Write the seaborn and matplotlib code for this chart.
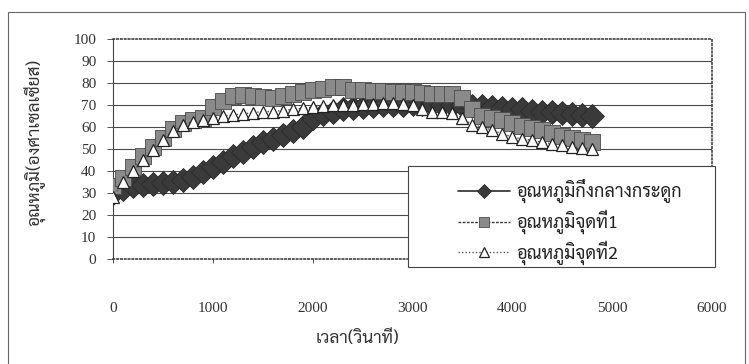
import glob, os
import matplotlib
matplotlib.use("Agg")
import matplotlib.pyplot as plt
from matplotlib import font_manager as fm
from matplotlib.patches import Rectangle
from matplotlib.lines import Line2D
import numpy as np
import pandas as pd
import seaborn as sns

# ---------------- data ----------------
time_s = [0, 100, 200, 300, 400, 500, 600, 700, 800, 900,
          1000, 1100, 1200, 1300, 1400, 1500, 1600, 1700, 1800, 1900,
          2000, 2100, 2200, 2300, 2400, 2500, 2600, 2700, 2800, 2900,
          3000, 3100, 3200, 3300, 3400, 3500, 3600, 3700, 3800, 3900,
          4000, 4100, 4200, 4300, 4400, 4500, 4600, 4700, 4800]
bone_center = [30, 32, 33, 33.5, 34, 34.5, 35, 36, 37.5, 39.5,
               42, 44, 47, 48.5, 51, 53, 54.5, 56.5, 58, 60,
               64, 66, 67, 68, 68.5, 69, 69.5, 70, 70, 70,
               70.5, 70.5, 70.5, 70, 70, 70, 69.5, 69.5, 69, 68.5,
               68, 68, 67.5, 67, 67, 66.5, 66, 65.5, 65]
point_1 = [33, 37, 42, 47, 51, 55, 59, 62, 63, 64,
           69, 72, 74, 74.5, 74, 73.5, 73, 74, 75, 76,
           77, 77.5, 78, 78, 77, 77, 76.5, 76.5, 76, 76,
           76, 75.5, 75, 75, 75, 73, 68, 65, 64, 63,
           62, 60.5, 59.5, 58.5, 57.5, 56, 55, 54, 53]
point_2 = [28, 35, 40, 45, 49.5, 54, 58, 61, 62.5, 63,
           64, 65, 65.5, 66, 66.5, 67, 67, 67.5, 68, 68.5,
           69, 69.5, 70, 70, 70, 70.5, 70.5, 71, 71, 70.5,
           70, 68, 67, 67, 66.5, 64, 61, 60, 58.5, 57,
           55.5, 54.5, 54, 53, 52.5, 52, 51, 50.5, 50]
series_names = ["อุณหภูมิกึ่งกลางกระดูก", "อุณหภูมิจุดที่1", "อุณหภูมิจุดที่2"]
x_ticks = [0, 1000, 2000, 3000, 4000, 5000, 6000]
y_ticks = [0, 10, 20, 30, 40, 50, 60, 70, 80, 90, 100]
x_label = "เวลา(วินาที)"
y_label = "อุณหภูมิ(องศาเซลเซียส)"

# ---------------- fonts ----------------
thai_family = "DejaVu Sans"
for name in ["Sarabun-Regular.ttf", "Sarabun-Light.ttf", "Pridi-Regular.ttf",
             "Taviraj-Regular.ttf", "Trirong-Regular.ttf", "Maitree-Regular.ttf",
             "Sarabun-Medium.ttf"]:
    hits = glob.glob("/usr/share/fonts/**/" + name, recursive=True)
    if hits:
        fm.fontManager.addfont(hits[0])
        thai_family = fm.FontProperties(fname=hits[0]).get_name()
        break

sns.set_theme(style="white")
plt.rcParams["font.family"] = ["Liberation Serif", thai_family, "DejaVu Sans"]
thai = [thai_family, "Liberation Serif", "DejaVu Sans"]

df = pd.DataFrame({"t": time_s, "s1": bone_center, "s2": point_1, "s3": point_2})

W, H = 749, 364
fig = plt.figure(figsize=(W / 100, H / 100), dpi=100)
fig.patch.set_facecolor("white")
fig.patches.append(Rectangle((8 / W, -0.05), (745 - 8) / W, 1.05 - 12 / H,
                             transform=fig.transFigure, fill=False,
                             edgecolor="#666666", linewidth=0.8))

ax = fig.add_axes([113 / W, 1 - 259 / H, (712 - 113) / W, (259 - 39) / H])
ax.set_facecolor("white")

sty1 = dict(color="#2b2b2b", linewidth=1.2, marker="D",
            markerfacecolor="#3a3a3a", markeredgecolor="#2a2a2a",
            markeredgewidth=0.6)
sty2 = dict(color="#3a3a3a", linewidth=1.0, linestyle=(0, (2, 1)), marker="s",
            markerfacecolor="#8a8a8a", markeredgecolor="#4a4a4a",
            markeredgewidth=0.6)
sty3 = dict(color="#555555", linewidth=1.0, linestyle=(0, (1, 1.5)), marker="^",
            markerfacecolor="white", markeredgecolor="#222222",
            markeredgewidth=0.9)

sns.lineplot(data=df, x="t", y="s1", ax=ax, markersize=12, zorder=3, **sty1)
sns.lineplot(data=df, x="t", y="s2", ax=ax, markersize=11, zorder=4, **sty2)
sns.lineplot(data=df, x="t", y="s3", ax=ax, markersize=9, zorder=5, **sty3)

ax.set_xlim(0, 6000)
ax.set_ylim(0, 100)
ax.set_xticks(x_ticks)
ax.set_yticks(y_ticks)
ax.set_xticklabels([str(v) for v in x_ticks])
ax.set_yticklabels([str(v) for v in y_ticks])
ax.set_xlabel("")
ax.set_ylabel("")
for v in y_ticks[1:-1]:
    ax.axhline(v, color="#4a4a4a", linewidth=0.8, zorder=1)
ax.grid(False)

for side in ["top", "right", "bottom"]:
    ax.spines[side].set_linestyle((0, (1, 1.5)))
    ax.spines[side].set_color("#333333")
    ax.spines[side].set_linewidth(1.1)
ax.spines["left"].set_color("#444444")
ax.spines["left"].set_linewidth(0.8)

ax.tick_params(axis="x", direction="out", length=3, width=0.7, color="#555555",
               pad=28, labelsize=11, labelcolor="#333333", bottom=True)
ax.tick_params(axis="y", direction="out", length=4, width=0.7, color="#555555",
               pad=8, labelsize=11, labelcolor="#333333", left=True)

# legend box (Excel-style wide frame) and legend content
fig.patches.append(Rectangle((408 / W, 1 - 267 / H), (715 - 408) / W, (267 - 166) / H,
                             transform=fig.transFigure, facecolor="white",
                             edgecolor="#444444", linewidth=0.8, zorder=8))
handles = [Line2D([], [], markersize=7, **sty1),
           Line2D([], [], markersize=7, **sty2),
           Line2D([], [], markersize=7, **sty3)]
leg = fig.legend(handles, series_names, loc="upper left",
                 bbox_to_anchor=(458 / W, 1 - 179 / H),
                 bbox_transform=fig.transFigure,
                 prop={"family": thai, "size": 13}, frameon=False,
                 handlelength=2.9, labelspacing=0.35, borderpad=0.0,
                 handletextpad=0.3, borderaxespad=0.0)
leg.set_zorder(10)
for txt in leg.get_texts():
    txt.set_color("#222222")

fig.text(357 / W, 1 - 339 / H, x_label, ha="center", va="center",
         family=thai, fontsize=12.5, color="#333333")
fig.text(35 / W, 1 - 142 / H, y_label, ha="center", va="center",
         rotation=90, family=thai, fontsize=12.5, color="#333333")

fig.savefig("out.png", dpi=100)
